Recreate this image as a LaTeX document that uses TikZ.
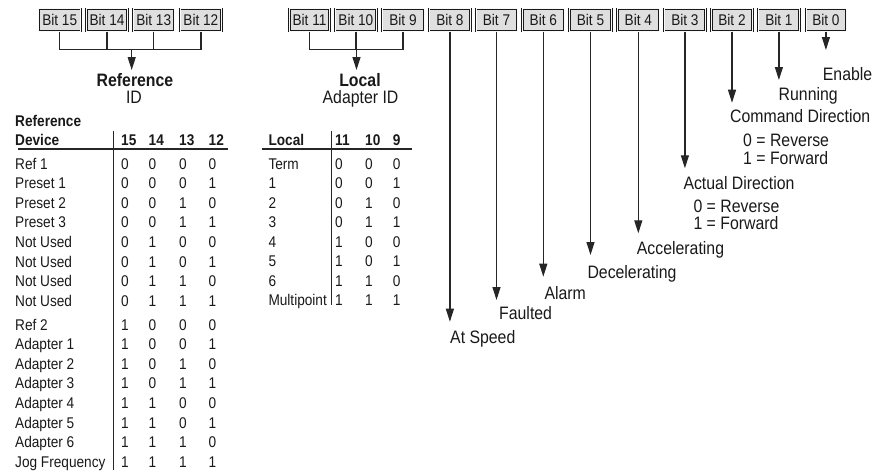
\documentclass[tikz,border=0pt]{standalone}
\usepackage{fontspec}
\setmainfont[FakeStretch=0.88]{Liberation Sans}
\usetikzlibrary{arrows.meta}
\newcommand\fbig{\fontsize{18}{20}\selectfont}
\newcommand\fsmall{\fontsize{15.5}{18}\selectfont}
\begin{document}
\begin{tikzpicture}[x=1pt,y=-1pt,
  wire/.style={line width=1.2pt, draw=black!85},
  arr/.style={wire, -{Triangle[length=13pt,width=8pt]}},
  bitbox/.style={draw=black!90, line width=0.8pt, double=gray!5, double distance=0.8pt, fill=gray!25, minimum width=43pt, minimum height=22.5pt, inner sep=0pt, font=\fsmall, text=black!90},
  big/.style={font=\fbig, inner sep=0pt, anchor=base west, text=black!90},
  sm/.style={font=\fsmall, inner sep=0pt, anchor=base west, text=black!90},
  rule/.style={line width=1.2pt, draw=black!85},
]
\useasboundingbox (0,0) rectangle (888,474);

% bit boxes
\foreach \n/\c/\w in {15/59.7/42,14/107/41,13/153.7/41,12/200.9/41.5,11/309.5/40,10/355.9/41.5,9/403/42,8/449.9/41.5,7/496.5/41,6/543.3/41.3,5/590.5/42,4/638.3/41.3,3/684.9/41.5,2/732/41,1/778.9/41.5,0/825.9/40}
  \node[bitbox, minimum width=\w pt] (b\n) at (\c,20) {Bit \n};

% Reference ID group
\coordinate (rj) at (131.7,49.3);
\coordinate (rtip) at (131.7,70);
\draw[wire] (b15.south) |- (b12.south |- rj) -- (b12.south);
\draw[wire] (b14.south) -- (b14.south |- rj);
\draw[wire] (b13.south) -- (b13.south |- rj);
\draw[arr] (rj) -- (rtip);
\node[big, anchor=base, font=\fbig\bfseries] (refid) at (135,86.5) {Reference};
\node[big, anchor=base] (refid2) at (134,103) {ID};

% Local adapter group
\coordinate (lj) at (356.5,49.3);
\coordinate (ltip) at (356.5,70);
\draw[wire] (b11.south) |- (b9.south |- lj) -- (b9.south);
\draw[wire] (b10.south) -- (b10.south |- lj);
\draw[arr] (lj) -- (ltip);
\node[big, anchor=base, font=\fbig\bfseries] (loc) at (360,86.5) {Local};
\node[big, anchor=base] (loc2) at (360.5,103.3) {Adapter ID};

% status bit arrows
\foreach \n/\x/\ty in {8/449.9/321.7,7/496.5/300,6/543.3/276.7,5/590.5/255,4/638.3/233.3,3/684.9/168.3,2/732/102.7,1/778.9/80,0/825.9/50}{
  \coordinate (t\n) at (\x,\ty);
  \draw[arr] (b\n.south) -- (t\n);
}
\node[big] (lat) at (450,343) {At Speed};
\node[big] (lfa) at (499,319.5) {Faulted};
\node[big] (lal) at (544.3,299.5) {Alarm};
\node[big] (lde) at (587.3,278) {Decelerating};
\node[big] (lac) at (636.7,254.5) {Accelerating};
\node[big] (lad) at (683.3,189) {Actual Direction};
\node[big] (lad0) at (693.3,212.5) {0 = Reverse};
\node[big] (lad1) at (693.3,229.3) {1 = Forward};
\node[big] (lcd) at (730,122.5) {Command Direction};
\node[big] (lcd0) at (743,146.5) {0 = Reverse};
\node[big] (lcd1) at (743,164) {1 = Forward};
\node[big] (lru) at (778.5,100.2) {Running};
\node[big] (len) at (822.7,80) {Enable};

% Reference device table
\node[sm, font=\fsmall\bfseries] (th1) at (15,126) {Reference};
\node[sm, font=\fsmall\bfseries] (th2) at (15,145) {Device};
\foreach \h/\x in {15/121,14/148.5,13/179,12/208.5}
  \node[sm, font=\fsmall\bfseries] (th\h) at (\x,145) {\h};
\draw[rule] (18,149) -- (228,149);
\draw[line width=1pt, draw=black!85] (113.3,130.7) -- (113.3,470);
\foreach \lab/\a/\b/\c/\d [count=\k from 0] in {
  Ref 1/0/0/0/0, Preset 1/0/0/0/1, Preset 2/0/0/1/0, Preset 3/0/0/1/1,
  Not Used/0/1/0/0, Not Used/0/1/0/1, Not Used/0/1/1/0, Not Used/0/1/1/1,
  Ref 2/1/0/0/0, Adapter 1/1/0/0/1, Adapter 2/1/0/1/0, Adapter 3/1/0/1/1,
  Adapter 4/1/1/0/0, Adapter 5/1/1/0/1, Adapter 6/1/1/1/0, Jog Frequency/1/1/1/1}{
  \pgfmathparse{ifthenelse(\k<8, 169+19.63*\k, 330+19.6*(\k-8))}
  \let\yy\pgfmathresult
  \node[sm] (rl\k) at (15,\yy) {\lab};
  \node[sm] (ra\k) at (121,\yy) {\a};
  \node[sm] (rb\k) at (148.5,\yy) {\b};
  \node[sm] (rc\k) at (179,\yy) {\c};
  \node[sm] (rd\k) at (208.5,\yy) {\d};
}

% Local table
\node[sm, font=\fsmall\bfseries] (lh) at (268.3,145) {Local};
\foreach \h/\x in {11/335,10/365,9/392.7}
  \node[sm, font=\fsmall\bfseries] (lh\h) at (\x,145) {\h};
\draw[rule] (261.7,149) -- (412.3,149);
\draw[line width=1pt, draw=black!85] (331,130.7) -- (331,305);
\foreach \lab/\a/\b/\c [count=\k from 0] in {
  Term/0/0/0, 1/0/0/1, 2/0/1/0, 3/0/1/1, 4/1/0/0, 5/1/0/1, 6/1/1/0, Multipoint/1/1/1}{
  \pgfmathparse{169+19.5*\k}
  \let\yy\pgfmathresult
  \node[sm] (ll\k) at (268.3,\yy) {\lab};
  \node[sm] (la\k) at (335,\yy) {\a};
  \node[sm] (lb\k) at (365,\yy) {\b};
  \node[sm] (lc\k) at (392.7,\yy) {\c};
}
\end{tikzpicture}
\end{document}
